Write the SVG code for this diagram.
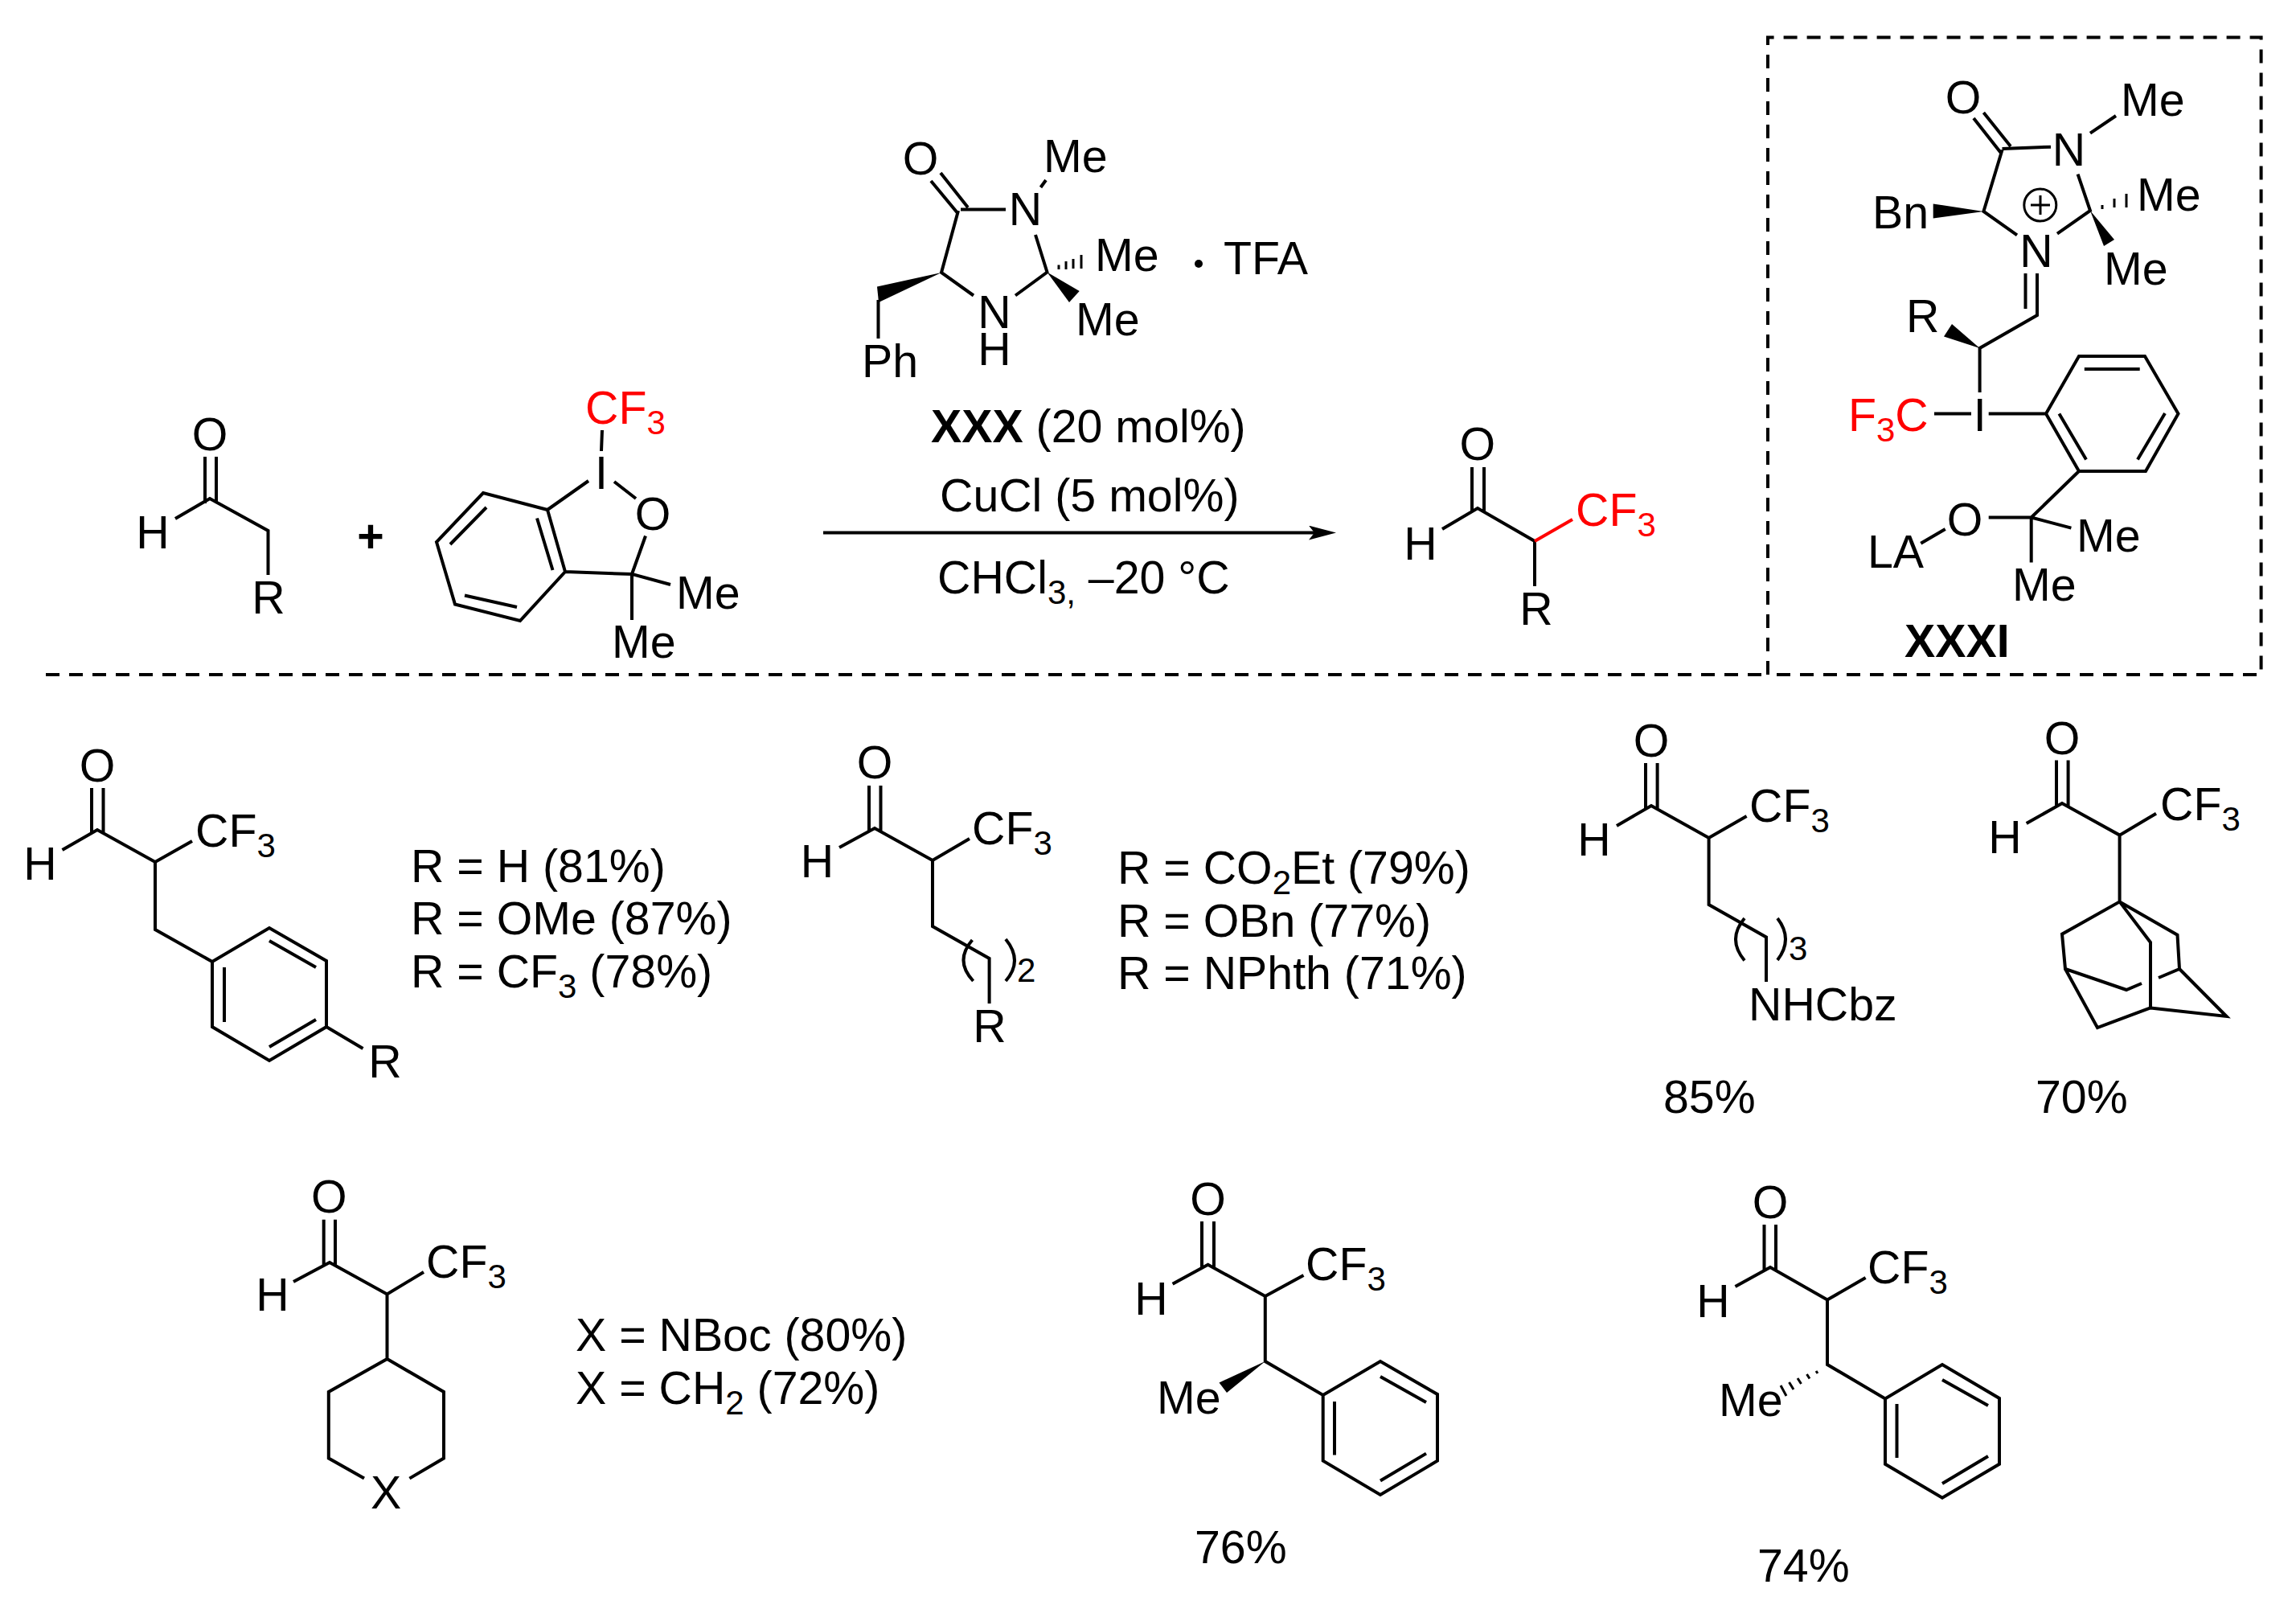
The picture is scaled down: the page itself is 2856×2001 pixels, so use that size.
<svg xmlns="http://www.w3.org/2000/svg" width="2856" height="2001" viewBox="0 0 2856 2001">
<style>
text{font-family:"Liberation Sans",Arial,sans-serif;font-size:57.300px;fill:#000}
.u{font-size:42px}
.bd{font-weight:700}
.m{text-anchor:middle}
.r{fill:#f00}
.b{fill:none;stroke:#000;stroke-width:4;stroke-linecap:butt;stroke-linejoin:miter}
.t{fill:none;stroke:#000;stroke-width:3}
.rb{fill:none;stroke:#f00;stroke-width:4}
.w{fill:#000;stroke:none}
.d{fill:none;stroke:#000;stroke-width:4;stroke-dasharray:17 12}
</style>
<defs>
<marker id="head" markerUnits="userSpaceOnUse" markerWidth="34" markerHeight="18" viewBox="0 0 34 18" refX="7" refY="9" orient="auto"><path d="M0 0L34 9L0 18L7 9Z" fill="#000"/></marker>
</defs>
<rect width="2856" height="2001" fill="#fff"/>

<g id="connectors">
<path class="b" d="M1024 662.600H1635" marker-end="url(#head)"/>
<path class="d" d="M57 839H2199"/>
<path class="d" d="M2199 839V46.600H2812.600V839H2199"/>
</g>

<g id="aldehyde">
<path class="b" d="M255 568V626M269 568V626M218 645L261 620L333.500 660V715"/>
<text class="m" x="261" y="560">O</text><text class="m" x="190" y="682">H</text><text class="m" x="334" y="763">R</text>
</g>
<g id="plus"><text class="m bd" x="461" y="687">+</text></g>
<g id="togni">
<path class="b" d="M749 535L748 561M732 598L681 634L601 613L543 674L566 751.500L647 772L703 711L681 634M703 711L786 714M668 644.500L687.500 709M605 631L560 677M578 740.500L643 755M764 599L791 620M803 666.500L786 714L834 727M786 714V771"/>
<text class="r" x="728" y="527">CF<tspan class="u" dy="13">3</tspan></text>
<text class="m" x="748" y="608">I</text><text class="m" x="812" y="659">O</text>
<text x="841" y="757">Me</text><text x="761" y="818">Me</text>
</g>
<g id="catalyst">
<path class="b" d="M1170 215L1204 258M1158 225L1192 266M1195 260.500H1251M1294.500 233L1301 224M1192 262L1171 339L1211 367.500M1263 367.500L1302.500 338.500L1288 292M1092.500 373V421"/>
<path class="w" d="M1171 339L1091 356.500L1093 376Z"/>
<path class="w" d="M1302.500 338.500L1342.700 362L1330 376Z"/>
<path class="t" d="M1317 329.500V335M1326 325V335M1335 322V334M1345 317V334"/>
<text class="m" x="1275.500" y="280">N</text><text x="1298" y="214">Me</text><text x="1362" y="337">Me</text><text x="1338" y="417">Me</text>
<text class="m" x="1145" y="217">O</text><text class="m" x="1237" y="407.500">N</text><text class="m" x="1237" y="454">H</text><text x="1072" y="469">Ph</text>
<circle cx="1491" cy="328" r="5"/>
<text x="1522" y="341">TFA</text>
</g>
<g id="conditions">
<text x="1158" y="550"><tspan class="bd">XXX</tspan> (20 mol%)</text>
<text x="1169" y="636">CuCl (5 mol%)</text>
<text x="1166" y="738">CHCl<tspan class="u" dy="13">3,</tspan><tspan dy="-13"> –20 °C</tspan></text>
</g>
<g id="product">
<path class="b" d="M1831 581V636M1846 581V636M1794 658L1838 632L1909 673V729"/>
<path class="rb" d="M1909 673L1956 646"/>
<text class="m" x="1837.700" y="571.700">O</text><text class="m" x="1767" y="695.700">H</text><text class="m" x="1911" y="777">R</text>
<text class="r" x="1960" y="654">CF<tspan class="u" dy="13">3</tspan></text>
</g>
<g id="intermediate">
<path class="b" d="M2467.400 140L2501 182M2455 147L2489.600 191M2490.500 185L2551 182.700M2600 165.700L2632 144M2490.500 186.500L2467.400 263L2509 292.400M2559 290.700L2600 262L2584.600 216.700M2519.500 340V384M2534 340V392L2462.600 433V488M2406 514.500H2452M2473.700 514.500H2545L2586 443H2668L2709.500 514.500L2669 586H2586L2545 514.500M2592.800 459H2661.700M2693 514L2659 571.600M2561.400 514.500L2595 571.600M2586 586L2526.700 643.500H2473.700M2419.700 658L2389.300 675.800M2526.700 643.500L2576.400 656.600M2526.700 643.500V699.400"/>
<path class="w" d="M2467.400 263L2404.700 253.400V271.500Z"/>
<path class="w" d="M2600 262L2630 298L2617 306Z"/>
<path class="w" d="M2462.600 433L2428 403L2418 418.500Z"/>
<path class="t" d="M2615 255V260M2630 247V258M2645 241V258"/>
<circle class="t" cx="2537.800" cy="255" r="20"/>
<path class="t" d="M2526 255H2550M2538 243V267"/>
<text class="m" x="2442" y="141">O</text><text class="m" x="2573.500" y="205.700">N</text><text x="2638" y="143.700">Me</text>
<text class="m" x="2533" y="332">N</text><text x="2658" y="262">Me</text><text x="2617" y="354">Me</text>
<text x="2329" y="284">Bn</text><text x="2371" y="412.500">R</text>
<text class="m" x="2462.600" y="536">I</text>
<text class="r" x="2299" y="536">F<tspan class="u" dy="13">3</tspan><tspan dy="-13">C</tspan></text>
<text class="m" x="2444" y="666">O</text><text x="2323" y="706">LA</text><text x="2583" y="685.700">Me</text><text x="2503" y="747">Me</text>
<text class="bd" x="2369" y="817">XXXI</text>
</g>

<g id="row1a">
<path class="b" d="M114 980V1036M128.500 980V1036M77.500 1057L121 1032L193 1072L239 1046M193 1072V1156L264 1196L335 1154L406 1195V1277L335 1319L264 1277V1196M335 1170L393 1203M279 1203V1271M335 1302L393 1268M406 1277L451.500 1304"/>
<text class="m" x="121" y="972">O</text><text class="m" x="50" y="1094">H</text><text x="243" y="1053">CF<tspan class="u" dy="13">3</tspan></text><text class="m" x="479" y="1340">R</text>
<text x="511" y="1097">R = H (81%)</text><text x="511" y="1162">R = OMe (87%)</text>
<text x="511" y="1228">R = CF<tspan class="u" dy="13">3</tspan><tspan dy="-13"> (78%)</tspan></text>
</g>
<g id="row1b">
<path class="b" d="M1081 977V1034M1095.500 977V1034M1044 1054L1088 1030L1160 1070L1206 1043M1160 1070V1152L1230.600 1192V1248M1209.400 1169Q1187 1195 1210.600 1220M1251 1168Q1273 1195 1251 1220"/>
<text class="m" x="1088" y="968">O</text><text class="m" x="1016.500" y="1091">H</text><text x="1209" y="1050">CF<tspan class="u" dy="13">3</tspan></text><text class="u" x="1265" y="1221">2</text><text class="m" x="1231" y="1296">R</text>
<text x="1390" y="1099">R = CO<tspan class="u" dy="13">2</tspan><tspan dy="-13">Et (79%)</tspan></text><text x="1390" y="1165">R = OBn (77%)</text><text x="1390" y="1230">R = NPhth (71%)</text>
</g>
<g id="row1c">
<path class="b" d="M2047 949V1005M2061.600 949V1005M2011 1027L2054 1002L2125.600 1042L2172.600 1015M2125.600 1042V1125L2197 1165.500V1221M2170 1142Q2148 1168 2170 1194.500M2211 1142Q2231 1168 2211 1194"/>
<text class="m" x="2054" y="941">O</text><text class="m" x="1983" y="1064">H</text><text x="2176" y="1022">CF<tspan class="u" dy="13">3</tspan></text><text class="u" x="2225" y="1194">3</text><text x="2175" y="1269">NHCbz</text>
<text x="2069" y="1384">85%</text>
</g>
<g id="row1d">
<path class="b" d="M2558 945.500V1002M2572.600 945.500V1002M2520.700 1024L2565 999L2636.600 1038.600L2682 1011.700M2636.600 1038.600V1121.400L2565 1161.700L2569 1205L2645 1231L2664 1223M2685 1216L2711 1205L2708.500 1162.800L2636.600 1121.400L2675 1172V1253.400L2609 1278L2569 1205M2675 1253.400L2769.500 1264L2711 1205"/>
<text class="m" x="2565" y="938">O</text><text class="m" x="2494" y="1061">H</text><text x="2687" y="1019.700">CF<tspan class="u" dy="13">3</tspan></text>
<text x="2532" y="1384">70%</text>
</g>
<g id="row2a">
<path class="b" d="M402.700 1516.700V1573M417 1516.700V1573M365 1594L410 1570L481.500 1609.500L527 1582M481.500 1609.500V1690L408.800 1731V1813.500L453 1838.600M481.500 1690L552 1731V1813.500L509.400 1838.600"/>
<text class="m" x="409.400" y="1508">O</text><text class="m" x="339" y="1630">H</text><text x="530" y="1589">CF<tspan class="u" dy="13">3</tspan></text><text class="m" x="480" y="1876">X</text>
<text x="716" y="1680">X = NBoc (80%)</text><text x="716" y="1745.700">X = CH<tspan class="u" dy="13">2</tspan><tspan dy="-13"> (72%)</tspan></text>
</g>
<g id="row2b">
<path class="b" d="M1495 1519V1577M1510 1519V1577M1458.600 1596.800L1502.600 1572.800L1573.800 1612L1621.500 1586M1573.800 1612V1693L1645.700 1735L1717 1693L1788 1734V1816.700L1717 1859L1645.700 1816.700V1735M1717 1712L1774 1744M1660 1743V1809.500M1717 1841.500L1774 1807.600"/>
<path class="w" d="M1573.800 1693L1516.500 1719.500L1526 1732Z"/>
<text class="m" x="1502.600" y="1511">O</text><text class="m" x="1432" y="1634.700">H</text><text x="1624" y="1592">CF<tspan class="u" dy="13">3</tspan></text><text x="1439" y="1758">Me</text>
<text x="1486" y="1943.500">76%</text>
</g>
<g id="row2c">
<path class="b" d="M2194.500 1523V1580M2209 1523V1580M2158.500 1600L2202 1576L2273 1616.500L2320.600 1589M2273 1616.500V1697L2345 1739.500L2416 1697L2487 1739V1820.800L2416 1862.600L2345 1820.800V1739.500M2416 1716L2473 1748M2359.500 1746V1813M2416 1845L2473 1811"/>
<path class="t" d="M2259 1705L2261 1708M2247.500 1709L2251 1714.500M2236 1714L2240.500 1721M2225.500 1719L2231 1728M2215 1723L2222 1736"/>
<text class="m" x="2202" y="1515">O</text><text class="m" x="2131" y="1637.600">H</text><text x="2323" y="1596.400">CF<tspan class="u" dy="13">3</tspan></text><text x="2138" y="1760.700">Me</text>
<text x="2186" y="1967">74%</text>
</g>
</svg>
